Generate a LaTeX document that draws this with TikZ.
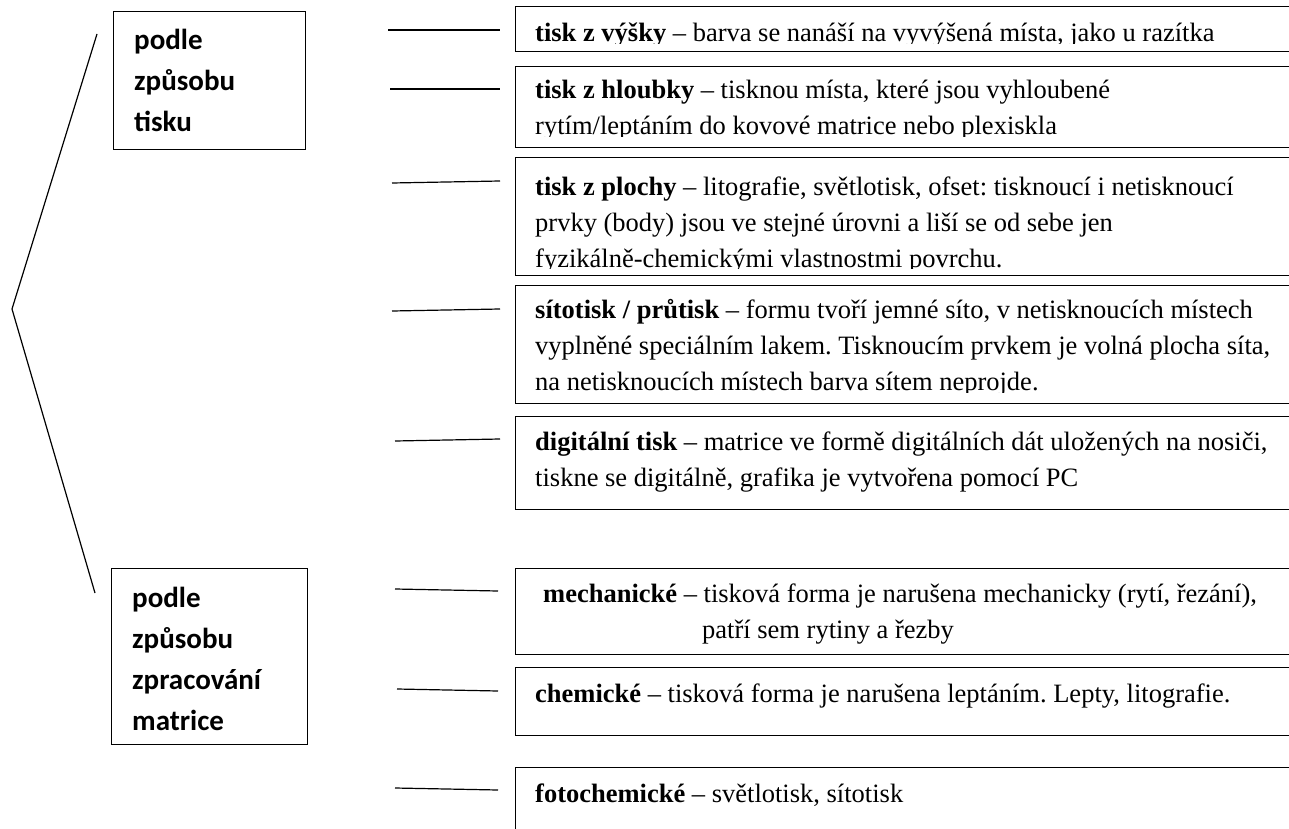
\documentclass[tikz,border=0pt]{standalone}
\usepackage{fontspec}
\setmainfont{Liberation Serif}
\newfontfamily\calibri{Carlito}
\usetikzlibrary{positioning}
\frenchspacing

\tikzset{
  groupbox/.style={draw, line width=1.3pt, anchor=north west, inner sep=0pt},
  kindbox/.style={draw, line width=1.3pt, anchor=north west, inner sep=0pt, minimum width=820pt},
  grouptext/.style={anchor=base west, align=left, inner sep=0pt, font=\calibri\bfseries\fontsize{29}{41}\selectfont},
  kindtext/.style={anchor=base west, align=left, inner sep=0pt, font=\fontsize{26.5}{36}\selectfont},
  tie/.style={line width=1.2pt}
}

\begin{document}
\begin{tikzpicture}[x=1pt,y=-1pt]
\useasboundingbox (0,0) rectangle (1289,829);

% left side: two groups (text anchored at its last line)
\node[groupbox, minimum width=192pt, minimum height=138pt] (tisk) at (113,11) {};
\node[grouptext] (tiskText) at (134,132) {podle\\způsobu\\tisku};
\node[groupbox, minimum width=196pt, minimum height=176pt] (matrice) at (111,568) {};
\node[grouptext] (matriceText) at (132,730) {podle\\způsobu\\zpracování\\matrice};

% bracket
\coordinate (bTop) at (97,34);
\coordinate (bTip) at (12,309);
\coordinate (bBot) at (95,593);
\draw[tie] (bTop) -- (bTip) -- (bBot);

% right side: kinds of print
\node[kindbox, minimum height=45pt] (vysky) at (515,6) {};
\node[kindbox, minimum height=81pt] (hloubky) at (515,66) {};
\node[kindbox, minimum height=118pt] (plochy) at (515,157) {};
\node[kindbox, minimum height=118pt] (sito) at (515,285) {};
\node[kindbox, minimum height=93pt] (digital) at (515,416) {};
\node[kindbox, minimum height=86pt] (mechan) at (515,568) {};
\node[kindbox, minimum height=68pt] (chem) at (515,667) {};
\node[kindbox, minimum height=100pt] (foto) at (515,767) {};

\begin{scope}
  \clip (515,6) rectangle (1289,43.5);
  \node[kindtext] (vyskyText) at (535,42) {\textbf{tisk z výšky} – barva se nanáší na vyvýšená místa, jako u razítka};
\end{scope}
\begin{scope}
  \clip (515,66) rectangle (1289,136.5);
  \node[kindtext] (hloubkyText) at (535,135) {\textbf{tisk z hloubky} – tisknou místa, které jsou vyhloubené\\rytím/leptáním do kovové matrice nebo plexiskla};
\end{scope}
\begin{scope}
  \clip (515,157) rectangle (1289,268.5);
  \node[kindtext] (plochyText) at (535,267) {\textbf{tisk z plochy} – litografie, světlotisk, ofset: tisknoucí i netisknoucí\\prvky (body) jsou ve stejné úrovni a liší se od sebe jen\\fyzikálně-chemickými vlastnostmi povrchu.};
\end{scope}
\begin{scope}
  \clip (515,285) rectangle (1289,392);
  \node[kindtext] (sitoText) at (535,390) {\textbf{sítotisk / průtisk} – formu tvoří jemné síto, v netisknoucích místech\\vyplněné speciálním lakem. Tisknoucím prvkem je volná plocha síta,\\na netisknoucích místech barva sítem neprojde.};
\end{scope}
\node[kindtext] (digitalText) at (535,486) {\textbf{digitální tisk} – matrice ve formě digitálních dát uložených na nosiči,\\tiskne se digitálně, grafika je vytvořena pomocí PC};
\node[kindtext] (mechanText) at (543,602) {\textbf{mechanické} – tisková forma je narušena mechanicky (rytí, řezání),};
\node[kindtext] (mechanMore) at (702,638) {patří sem rytiny a řezby};
\node[kindtext] (chemText) at (535,702) {\textbf{chemické} – tisková forma je narušena leptáním. Lepty, litografie.};
\node[kindtext] (fotoText) at (535,802) {\textbf{fotochemické} – světlotisk, sítotisk};

% short ties in front of the boxes
\foreach \i/\xa/\ya/\xb/\yb in {1/388/30/500/30, 2/390/89/500/89, 3/392/183/500/181,
    4/392/311/500/309, 5/395/441/500/439, 6/395/589/498/591, 7/397/689/498/691, 8/395/788/498/790}{
  \coordinate (tieA\i) at (\xa,\ya);
  \coordinate (tieB\i) at (\xb,\yb);
  \draw[tie] (tieA\i) -- (tieB\i);
}
\end{tikzpicture}
\end{document}
